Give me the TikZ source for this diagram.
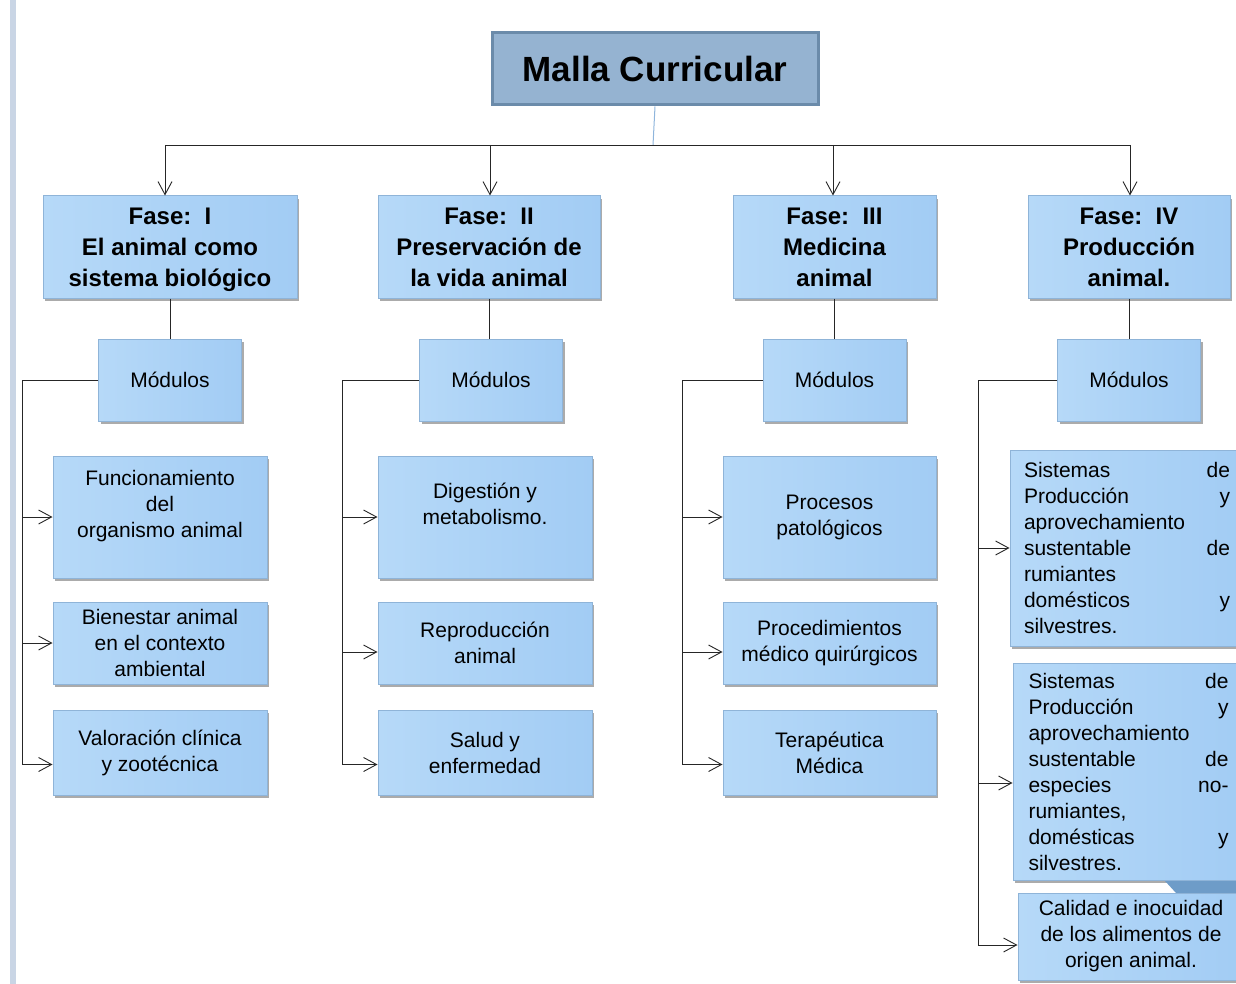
\documentclass[tikz,border=0pt]{standalone}
\usepackage{fontspec}
\setmainfont{Liberation Sans}
\usepackage{xcolor}
\usepackage{tikz}
\usetikzlibrary{arrows.meta, positioning, shadows}

\definecolor{titlefill}{HTML}{95B3D1}
\definecolor{titleedge}{HTML}{6B8BAA}
\definecolor{boxlight}{HTML}{D6EBFD}
\definecolor{boxside}{HTML}{B6D9F8}
\definecolor{boxdark}{HTML}{A2CCF4}
\definecolor{boxedge}{HTML}{8FB4D8}
\definecolor{stripcol}{HTML}{C9D5E5}
\definecolor{stemcol}{HTML}{8FB5DC}
\definecolor{tabcol}{HTML}{6E9CC8}

\begin{document}
\begin{tikzpicture}[
    x=1pt, y=-1pt,
    node distance=40pt,
    blue box/.style={rectangle, draw=boxedge, line width=1pt, inner sep=0pt,
        left color=boxside, middle color=boxlight, right color=boxdark,
        drop shadow={shadow xshift=2pt, shadow yshift=-3pt, fill=black!55, opacity=0.6},
        align=center},
    title/.style={rectangle, draw=titleedge, line width=3pt, fill=titlefill,
        minimum width=326pt, minimum height=72pt,
        font=\fontsize{35}{42}\selectfont\bfseries},
    phase/.style={blue box, minimum height=102pt, text depth=0pt, font=\fontsize{24}{31}\selectfont\bfseries},
    module/.style={blue box, minimum width=143pt, minimum height=82pt, font=\fontsize{21}{26}\selectfont},
    topic/.style={blue box, font=\fontsize{21}{26}\selectfont},
    wire/.style={line width=0.9pt, black!85},
    arrow/.style={wire, -{Straight Barb[length=13pt, width=14pt, line width=0.9pt]}},
]
\useasboundingbox (0,0) rectangle (1236,984);
\fill[stripcol] (10,0) rectangle (16,984);

% Nodes
\node[title] (malla) at (655,69) {Malla Curricular};

\node[phase, minimum width=254pt] (fase1) at (170,247) {Fase:\ \ I\\El animal como\\sistema biológico};
\node[phase, minimum width=222pt] (fase2) at (489,247) {Fase:\ \ II\\Preservación de\\la vida animal};
\node[phase, minimum width=203pt] (fase3) at (834.5,247) {Fase:\ \ III\\Medicina\\animal};
\node[phase, minimum width=202pt] (fase4) at (1129,247) {Fase:\ \ IV\\Producción\\animal.};

\node[module, below=of fase1] (mod1) {Módulos};
\node[module, below=of fase2, xshift=2pt] (mod2) {Módulos};
\node[module, below=of fase3] (mod3) {Módulos};
\node[module, below=of fase4] (mod4) {Módulos};

% Phase I topics
\node[topic, minimum width=214pt, minimum height=122pt] (func) at (160,517) {Funcionamiento\\del\\organismo animal\\~};
\node[topic, minimum width=214pt, minimum height=82pt] (bien) at (160,643) {Bienestar animal\\en el contexto\\ambiental};
\node[topic, minimum width=214pt, minimum height=85pt] (valo) at (160,752.5) {Valoración clínica\\y zootécnica};

% Phase II topics
\node[topic, minimum width=214pt, minimum height=122pt] (dige) at (485,517) {Digestión y\\metabolismo.\\~};
\node[topic, minimum width=214pt, minimum height=82pt] (repr) at (485,643) {Reproducción\\animal};
\node[topic, minimum width=214pt, minimum height=85pt] (salu) at (485,752.5) {Salud y\\enfermedad};

% Phase III topics
\node[topic, minimum width=213pt, minimum height=122pt] (proc) at (829.5,517) {Procesos\\patológicos};
\node[topic, minimum width=213pt, minimum height=82pt] (quir) at (829.5,643) {Procedimientos\\médico quirúrgicos};
\node[topic, minimum width=213pt, minimum height=85pt] (tera) at (829.5,752.5) {Terapéutica\\Médica};

% Phase IV topics
\node[topic, align=left, text width=206pt, minimum width=234pt, minimum height=196pt] (rumi) at (1127,548)
    {Sistemas\hfill de\\Producción\hfill y\\aprovechamiento\\sustentable\hfill de\\rumiantes\\domésticos\hfill y\\silvestres.};
\node[topic, align=left, text width=200pt, minimum width=231pt, minimum height=217pt] (norum) at (1128.5,771.5)
    {Sistemas\hfill de\\Producción\hfill y\\aprovechamiento\\sustentable\hfill de\\especies\hfill no-\\rumiantes,\\domésticas\hfill y\\silvestres.};
\fill[tabcol] (1165,881) -- (1240,881) -- (1240,893) -- (1176,893) -- cycle;
\node[topic, minimum width=226pt, minimum height=87pt] (cali) at (1131,936.5) {Calidad e inocuidad\\de los alimentos de\\origen animal.};

% Arrows from the title
\coordinate (bus) at (653,145);
\draw[stemcol, line width=1pt] (malla.south) -- (bus);
\draw[wire] ([xshift=-5pt]fase1.north |- bus) -- ([xshift=1pt]fase4.north |- bus);
\draw[arrow] ([xshift=-5pt]fase1.north |- bus) -- ([xshift=-5pt]fase1.north);
\draw[arrow] ([xshift=1pt]fase2.north |- bus) -- ([xshift=1pt]fase2.north);
\draw[arrow] ([xshift=-1.5pt]fase3.north |- bus) -- ([xshift=-1.5pt]fase3.north);
\draw[arrow] ([xshift=1pt]fase4.north |- bus) -- ([xshift=1pt]fase4.north);

% Phases to modules
\draw[wire] (fase1) -- (mod1);
\draw[wire] (fase2.south) -- (mod2.north -| fase2.south);
\draw[wire] (fase3) -- (mod3);
\draw[wire] (fase4) -- (mod4);

% Modules to topics
\coordinate (trunk1) at (22,379);
\coordinate (trunk2) at (342,379);
\coordinate (trunk3) at (682,379);
\coordinate (trunk4) at (978,379);
\coordinate (valo-in) at ([yshift=-12pt]valo.west);
\coordinate (repr-in) at ([yshift=-9pt]repr.west);
\coordinate (salu-in) at ([yshift=-12pt]salu.west);
\coordinate (quir-in) at ([yshift=-9pt]quir.west);
\coordinate (tera-in) at ([yshift=-12pt]tera.west);
\coordinate (norum-in) at ([yshift=-11.5pt]norum.west);
\coordinate (cali-in) at ([yshift=-8.5pt]cali.west);

\draw[arrow] (mod1.west) -| (trunk1 |- valo-in) -- (valo-in);
\draw[arrow] (trunk1 |- func.west) -- (func.west);
\draw[arrow] (trunk1 |- bien.west) -- (bien.west);

\draw[arrow] (mod2.west) -| (trunk2 |- salu-in) -- (salu-in);
\draw[arrow] (trunk2 |- dige.west) -- (dige.west);
\draw[arrow] (trunk2 |- repr-in) -- (repr-in);

\draw[arrow] (mod3.west) -| (trunk3 |- tera-in) -- (tera-in);
\draw[arrow] (trunk3 |- proc.west) -- (proc.west);
\draw[arrow] (trunk3 |- quir-in) -- (quir-in);

\draw[arrow] (mod4.west) -| (trunk4 |- cali-in) -- (cali-in);
\draw[arrow] (trunk4 |- rumi.west) -- (rumi.west);
\draw[arrow] (trunk4 |- norum-in) -- (norum-in);

\end{tikzpicture}
\end{document}
